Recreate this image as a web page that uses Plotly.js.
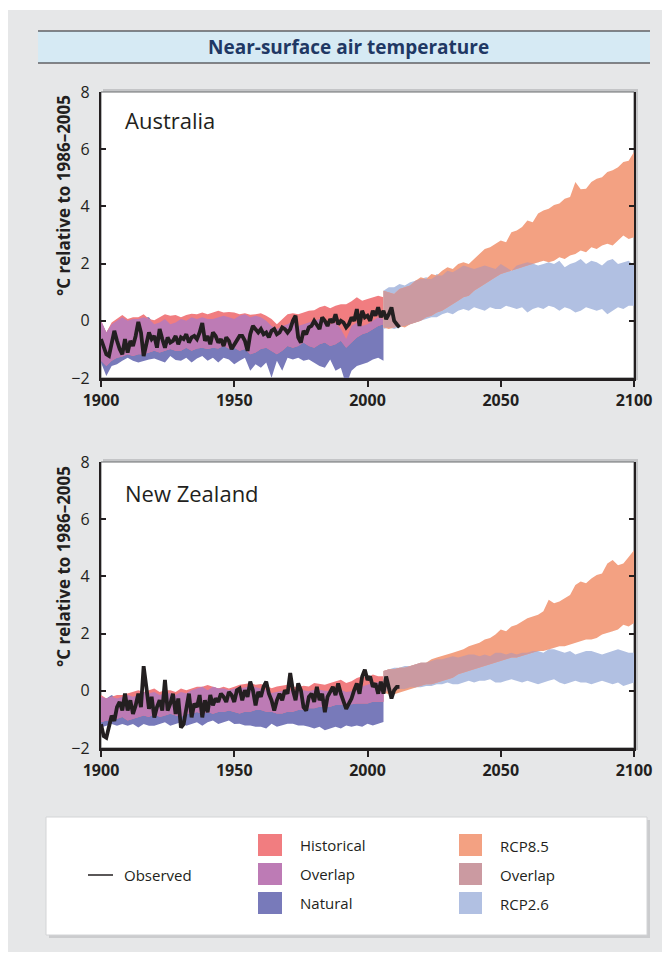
<!DOCTYPE html>
<html>
<head>
<meta charset="utf-8">
<script src="https://cdn.plot.ly/plotly-3.0.1.min.js"></script>
<style>
  html, body { margin: 0; padding: 0; background: #ffffff; }
  #chart { width: 667px; height: 957px; }
</style>
</head>
<body>
<div id="chart"></div>
<script>
// ---------------- DATA ----------------
function range(a, b, s) { const r = []; for (let v = a; v <= b; v += s) r.push(v); return r; }
const yearsHist = range(1900, 2006, 2);   // model historical / natural bands
const yearsObs  = range(1900, 2012, 1);   // observations
const yearsFut  = range(2006, 2100, 2);   // RCP projections

const xTickVals = [1900, 1950, 2000, 2050, 2100];
const yTickVals = [-2, 0, 2, 4, 6, 8];
const regionNames = ['Australia', 'New Zealand'];
const legendLeft  = ['Historical', 'Overlap', 'Natural'];
const legendRight = ['RCP8.5', 'Overlap', 'RCP2.6'];

// ---- Australia ----
const auHistHigh = [0.0,-0.41,-0.06,0.06,0.20,0.06,0.12,0.12,0.23,0.06,0.02,0.12,0.23,0.18,0.20,0.12,0.20,0.25,0.23,0.29,0.23,0.29,0.35,0.29,0.31,0.29,0.23,0.26,0.21,0.23,0.26,0.18,0.06,-0.12,0.06,0.23,0.26,0.23,0.29,0.35,0.37,0.47,0.53,0.44,0.53,0.58,0.58,0.68,0.82,0.70,0.76,0.82,0.88,0.82];
const auNatHigh  = [0.0,-0.41,-0.12,0.0,0.12,0.0,0.06,0.06,0.12,0.12,-0.12,-0.06,0.06,-0.12,-0.06,0.06,0.0,0.12,0.06,0.12,0.06,0.06,0.12,0.18,0.12,0.06,0.18,0.23,0.12,0.18,0.12,0.0,-0.18,-0.29,-0.18,-0.12,0.0,-0.18,-0.12,-0.06,0.0,0.06,0.0,-0.12,-0.06,-0.29,-0.64,-0.18,-0.06,-0.18,-0.12,0.0,0.12,0.06];
const auHistLow  = [-1.40,-1.58,-1.40,-1.29,-1.25,-1.17,-1.23,-1.17,-1.17,-1.11,-1.05,-1.11,-1.05,-0.99,-1.05,-1.05,-0.94,-1.05,-0.97,-0.94,-0.99,-0.94,-0.97,-0.88,-0.97,-0.94,-1.05,-0.99,-1.17,-1.11,-0.99,-0.94,-1.05,-1.17,-1.05,-0.88,-0.94,-0.88,-0.76,-0.88,-0.94,-0.82,-0.76,-0.88,-0.82,-0.70,-0.94,-0.76,-0.58,-0.47,-0.41,-0.29,-0.18,-0.12];
const auNatLow   = [-1.46,-1.93,-1.58,-1.52,-1.40,-1.29,-1.40,-1.46,-1.40,-1.35,-1.32,-1.40,-1.46,-1.23,-1.37,-1.40,-1.29,-1.46,-1.32,-1.23,-1.40,-1.29,-1.46,-1.29,-1.35,-1.52,-1.40,-1.29,-1.75,-1.52,-1.64,-1.46,-1.99,-1.40,-1.75,-1.29,-1.35,-1.29,-1.40,-1.35,-1.46,-1.58,-1.64,-1.35,-1.75,-1.64,-2.25,-1.75,-1.58,-1.52,-1.46,-1.35,-1.29,-1.40];
const auObs = [-0.64,-0.88,-1.17,-1.23,-0.82,-0.35,-0.70,-0.99,-1.17,-0.64,-1.11,-0.70,-0.88,-0.53,-0.04,-0.41,-1.23,-0.88,-0.41,-0.64,-0.53,-0.94,-0.29,-0.64,-0.94,-0.58,-0.76,-0.70,-0.53,-0.82,-0.58,-0.64,-0.47,-0.76,-0.58,-0.53,-0.64,-0.41,-0.08,-0.70,-0.53,-0.82,-0.41,-0.53,-0.76,-0.64,-0.88,-0.58,-0.70,-0.99,-0.82,-0.70,-0.53,-0.53,-0.70,-1.05,-0.47,-0.18,-0.29,-0.41,-0.29,-0.47,-0.41,-0.58,-0.35,-0.29,-0.47,-0.41,-0.23,-0.29,-0.41,-0.29,0.0,0.18,-0.58,-0.76,-0.35,-0.47,-0.23,-0.18,0.0,-0.12,-0.29,0.12,0.0,-0.18,0.06,-0.06,0.23,-0.12,0.0,-0.06,-0.23,-0.12,0.12,0.0,0.41,-0.18,0.35,0.12,0.18,0.0,0.35,0.18,0.47,0.12,0.35,0.06,0.23,0.47,0.0,-0.12,-0.23];
const auRcp85High = [1.05,0.99,0.94,1.11,1.17,1.23,1.40,1.52,1.46,1.64,1.58,1.75,1.87,1.81,1.99,2.05,1.99,2.16,2.34,2.51,2.57,2.69,2.81,2.75,3.10,3.16,3.28,3.51,3.45,3.75,3.86,3.92,4.05,4.10,4.27,4.33,4.85,4.60,4.62,4.85,4.97,5.02,5.20,5.26,5.37,5.55,5.60,5.90];
const auRcp85Low  = [-0.23,-0.29,-0.23,-0.18,-0.23,-0.12,-0.06,0.0,0.12,0.18,0.29,0.35,0.47,0.58,0.70,0.82,0.88,1.05,1.17,1.29,1.40,1.52,1.64,1.70,1.75,1.81,1.87,1.93,1.99,2.05,2.10,2.05,2.10,2.22,2.16,2.28,2.34,2.46,2.40,2.57,2.51,2.63,2.69,2.63,2.81,2.98,2.86,2.92];
const auRcp26High = [1.05,1.17,1.17,1.29,1.23,1.35,1.40,1.46,1.52,1.46,1.64,1.58,1.75,1.70,1.81,1.93,1.87,1.81,1.87,1.93,1.87,1.81,1.99,1.87,1.75,1.93,2.00,2.05,2.00,1.93,1.99,2.05,1.99,2.10,1.87,1.99,2.05,2.16,1.99,2.10,2.05,1.93,2.10,2.16,1.99,2.05,2.10,1.93];
const auRcp26Low  = [-0.29,-0.23,-0.29,-0.23,-0.18,-0.12,-0.06,0.0,0.06,0.12,0.12,0.23,0.29,0.23,0.35,0.41,0.35,0.47,0.41,0.35,0.47,0.41,0.41,0.53,0.47,0.41,0.47,0.29,0.41,0.47,0.41,0.53,0.47,0.35,0.47,0.41,0.29,0.35,0.47,0.41,0.35,0.41,0.23,0.35,0.47,0.41,0.53,0.53];

// ---- New Zealand ----
const nzHistHigh = [-0.15,-0.27,-0.21,-0.15,-0.15,-0.09,-0.04,0.02,-0.04,0.02,0.08,-0.04,0.02,0.02,-0.04,0.08,0.02,0.08,0.14,0.14,0.20,0.14,0.08,0.14,0.08,0.14,0.21,0.24,0.27,0.21,0.24,0.18,0.09,0.15,0.18,0.21,0.15,0.12,0.18,0.15,0.27,0.24,0.21,0.27,0.33,0.39,0.27,0.33,0.45,0.51,0.45,0.57,0.51,0.51];
const nzNatHigh  = [-0.21,-0.27,-0.15,-0.27,-0.21,-0.15,-0.21,-0.15,-0.04,-0.09,-0.04,-0.15,-0.09,-0.09,-0.15,-0.04,-0.09,0.02,0.08,0.14,0.02,0.14,0.08,0.08,0.02,0.08,0.09,0.12,0.15,0.12,0.09,0.04,-0.08,-0.04,-0.02,0.04,0.0,-0.02,0.02,-0.02,0.04,0.04,0.0,-0.02,0.04,0.04,-0.04,-0.02,0.09,0.15,0.21,0.27,0.30,0.33];
const nzHistLow  = [-1.10,-1.04,-1.04,-0.98,-0.92,-1.04,-0.98,-0.92,-0.86,-0.92,-0.80,-0.92,-0.86,-0.80,-0.86,-0.92,-0.80,-0.80,-0.74,-0.80,-0.74,-0.80,-0.74,-0.74,-0.69,-0.74,-0.79,-0.73,-0.73,-0.67,-0.67,-0.73,-0.73,-0.79,-0.79,-0.73,-0.73,-0.67,-0.67,-0.61,-0.61,-0.56,-0.56,-0.56,-0.50,-0.50,-0.47,-0.47,-0.44,-0.44,-0.44,-0.38,-0.38,-0.38];
const nzNatLow   = [-1.28,-1.22,-1.16,-1.22,-1.16,-1.22,-1.16,-1.28,-1.16,-1.22,-1.22,-1.16,-1.10,-1.22,-1.16,-1.10,-1.22,-1.16,-1.10,-1.22,-1.10,-1.04,-1.16,-1.10,-1.04,-1.16,-1.15,-1.21,-1.21,-1.26,-1.26,-1.32,-1.15,-1.26,-1.21,-1.15,-1.15,-1.21,-1.21,-1.26,-1.32,-1.26,-1.38,-1.32,-1.26,-1.32,-1.21,-1.26,-1.21,-1.26,-1.15,-1.21,-1.15,-1.09];
const nzObs = [-1.17,-1.58,-1.64,-1.29,-0.87,-1.05,-0.57,-0.39,-0.69,-0.10,-0.69,-0.33,-0.81,-0.51,-0.10,-0.57,0.86,0.14,-0.63,-0.21,-0.93,-0.57,-0.33,-0.69,0.38,-0.69,-0.45,-0.10,-0.81,-0.27,-1.29,-1.17,-0.57,-0.10,-0.93,-0.45,-0.57,-0.15,-0.93,-0.33,-0.75,-0.15,-0.51,-0.27,-0.39,-0.10,-0.21,-0.39,-0.04,-0.15,-0.39,0.02,0.08,-0.33,0.02,-0.21,0.32,0.02,-0.51,-0.04,-0.21,0.14,0.32,-0.10,-0.33,-0.69,-0.33,-0.10,-0.33,0.02,-0.10,0.62,0.02,-0.33,0.26,0.02,-0.57,-0.69,-0.21,-0.10,-0.39,0.14,-0.33,-0.10,-0.75,-0.21,-0.04,0.14,-0.15,0.26,-0.10,-0.39,-0.63,-0.45,-0.27,0.02,0.26,-0.10,0.50,0.74,0.38,0.50,0.14,0.26,-0.10,0.32,-0.10,0.50,0.08,-0.27,0.02,0.14,0.14];
const nzRcp85High = [0.69,0.75,0.75,0.81,0.81,0.87,0.92,0.98,0.98,1.10,1.16,1.21,1.27,1.33,1.39,1.45,1.56,1.62,1.68,1.79,1.85,1.97,2.14,2.08,2.25,2.31,2.43,2.54,2.60,2.66,2.78,3.18,3.06,3.12,3.24,3.35,3.70,3.82,3.76,3.93,4.05,4.10,4.45,4.57,4.39,4.45,4.68,4.91];
const nzRcp85Low  = [-0.06,-0.12,-0.12,-0.06,0.0,0.06,0.12,0.17,0.23,0.23,0.29,0.35,0.40,0.46,0.58,0.64,0.69,0.75,0.81,0.87,0.92,0.98,1.04,1.10,1.16,1.16,1.21,1.27,1.33,1.39,1.39,1.45,1.50,1.56,1.56,1.62,1.68,1.73,1.79,1.79,1.85,1.97,2.02,2.08,2.14,2.31,2.25,2.37];
const nzRcp26High = [0.69,0.75,0.81,0.81,0.87,0.87,0.92,0.98,0.98,1.04,1.10,1.10,1.16,1.21,1.16,1.21,1.27,1.27,1.21,1.27,1.21,1.33,1.33,1.27,1.33,1.27,1.33,1.33,1.39,1.39,1.33,1.45,1.45,1.39,1.33,1.39,1.27,1.33,1.39,1.39,1.33,1.27,1.33,1.39,1.45,1.39,1.33,1.33];
const nzRcp26Low  = [-0.06,0.0,0.0,0.06,0.06,0.12,0.12,0.12,0.17,0.17,0.23,0.23,0.29,0.23,0.23,0.29,0.35,0.29,0.35,0.35,0.40,0.29,0.29,0.35,0.40,0.35,0.29,0.35,0.29,0.23,0.29,0.35,0.40,0.29,0.23,0.29,0.35,0.29,0.29,0.23,0.29,0.35,0.29,0.23,0.29,0.17,0.23,0.29];

// ---------------- STYLE ----------------
const C = {
  hist: '#f17d80', histOv: '#bd7bb5', nat: '#787aba',
  rcp85: '#f3a182', rcpOv: '#cb9aa1', rcp26: '#b1c0e2',
  obs: '#231f20', ink: '#231f20', panel: '#e6e7e8', banner: '#d6eaf4', title: '#1f3864'
};
const W = 667, H = 957;
const PX = p => p / W;
const PY = p => 1 - p / H;
const FONT = '"Open Sans", "DejaVu Sans", sans-serif';

function band(x, hi, lo, color, xa, ya) {
  return {
    type: 'scatter', mode: 'lines', xaxis: xa, yaxis: ya,
    x: x.concat(x.slice().reverse()),
    y: hi.concat(lo.slice().reverse()),
    fill: 'toself', fillcolor: color, line: { width: 0, color: color },
    hoverinfo: 'skip', showlegend: false
  };
}
function overlapBand(x, hiA, loA, hiB, loB, color, xa, ya) {
  const lo = loA.map((v, i) => Math.max(v, loB[i]));
  const hi = hiA.map((v, i) => Math.max(Math.min(v, hiB[i]), lo[i]));
  return band(x, hi, lo, color, xa, ya);
}

function regionTraces(d, xa, ya) {
  return [
    band(yearsHist, d.natHigh, d.natLow, C.nat, xa, ya),
    band(yearsHist, d.histHigh, d.histLow, C.hist, xa, ya),
    overlapBand(yearsHist, d.histHigh, d.histLow, d.natHigh, d.natLow, C.histOv, xa, ya),
    band(yearsFut, d.r26High, d.r26Low, C.rcp26, xa, ya),
    band(yearsFut, d.r85High, d.r85Low, C.rcp85, xa, ya),
    overlapBand(yearsFut, d.r85High, d.r85Low, d.r26High, d.r26Low, C.rcpOv, xa, ya),
    { type: 'scatter', mode: 'lines', xaxis: xa, yaxis: ya, x: yearsObs, y: d.obs,
      line: { color: C.obs, width: 3.8, shape: 'linear' }, hoverinfo: 'skip', showlegend: false }
  ];
}

const traces = [].concat(
  regionTraces({ histHigh: auHistHigh, histLow: auHistLow, natHigh: auNatHigh, natLow: auNatLow,
                 r85High: auRcp85High, r85Low: auRcp85Low, r26High: auRcp26High, r26Low: auRcp26Low, obs: auObs }, 'x', 'y'),
  regionTraces({ histHigh: nzHistHigh, histLow: nzHistLow, natHigh: nzNatHigh, natLow: nzNatLow,
                 r85High: nzRcp85High, r85Low: nzRcp85Low, r26High: nzRcp26High, r26Low: nzRcp26Low, obs: nzObs }, 'x2', 'y2')
);

// plot geometry (pixels)
const plotL = 101, plotR = 634;
const panels = [{ top: 92, bot: 378 }, { top: 462, bot: 748 }];

function xAxis(anchor) {
  return {
    anchor: anchor, domain: [PX(plotL), PX(plotR)], range: [1900, 2100],
    tickvals: xTickVals, ticks: 'outside', ticklen: 6, tickwidth: 2, tickcolor: C.ink,
    showline: true, linecolor: C.ink, linewidth: 2.5, showgrid: false, zeroline: false,
    tickfont: { family: FONT, size: 16, color: C.ink, weight: 'bold' }, fixedrange: true
  };
}
function yAxis(anchor, p) {
  return {
    anchor: anchor, domain: [PY(p.bot), PY(p.top)], range: [-2, 8],
    tickvals: yTickVals, ticks: 'inside', ticklen: 5, tickwidth: 2, tickcolor: C.ink,
    showline: true, linecolor: C.ink, linewidth: 2.2, mirror: 'ticks', showgrid: false, zeroline: false,
    tickfont: { family: FONT, size: 16, color: C.ink }, ticklabelstandoff: 6, fixedrange: true
  };
}

const shapes = [];
const rect = (x0, y0, x1, y1, fill, line, layer) => shapes.push({
  type: 'rect', xref: 'paper', yref: 'paper', x0: PX(x0), x1: PX(x1), y0: PY(y1), y1: PY(y0),
  fillcolor: fill, line: line || { width: 0 }, layer: layer || 'below'
});
const hline = (x0, x1, y, color, w) => shapes.push({
  type: 'line', xref: 'paper', yref: 'paper', x0: PX(x0), x1: PX(x1), y0: PY(y), y1: PY(y),
  line: { color: color, width: w }, layer: 'below'
});

// background panel
rect(8, 10, 662, 952, C.panel);
// title banner
rect(38, 31, 650, 63, C.banner);
hline(38, 650, 31, C.ink, 1.2);
hline(38, 650, 63, C.ink, 1.2);
// plot boxes with soft shadow
panels.forEach(p => {
  rect(plotL + 2, p.top - 3, plotR + 4, p.bot + 2, '#c4c5c7');
  rect(plotL, p.top, plotR, p.bot, '#ffffff', { color: '#6d6e71', width: 1 });
});
// legend box
rect(49, 820, 650, 938, '#cbccce');
rect(46, 817, 647, 935, '#ffffff', { color: '#d3d4d6', width: 1 });

// legend keys
const keyColorsL = [C.hist, C.histOv, C.nat];
const keyColorsR = [C.rcp85, C.rcpOv, C.rcp26];
const rowY = [845, 874, 903];
const annotations = [];
rowY.forEach((cy, i) => {
  rect(258, cy - 11, 282, cy + 11, keyColorsL[i], null, 'above');
  rect(459, cy - 11, 482, cy + 11, keyColorsR[i], null, 'above');
  annotations.push({ xref: 'paper', yref: 'paper', x: PX(298), y: PY(cy), xanchor: 'left', yanchor: 'middle',
    text: legendLeft[i], showarrow: false, font: { family: FONT, size: 15, color: C.ink } });
  annotations.push({ xref: 'paper', yref: 'paper', x: PX(498), y: PY(cy + 1), xanchor: 'left', yanchor: 'middle',
    text: legendRight[i], showarrow: false, font: { family: FONT, size: 15, color: C.ink } });
});
shapes.push({ type: 'line', xref: 'paper', yref: 'paper', x0: PX(88), x1: PX(113), y0: PY(875), y1: PY(875),
  line: { color: C.ink, width: 1.5 }, layer: 'above' });
annotations.push({ xref: 'paper', yref: 'paper', x: PX(122), y: PY(875), xanchor: 'left', yanchor: 'middle',
  text: 'Observed', showarrow: false, font: { family: FONT, size: 15, color: C.ink } });

// title
annotations.push({ xref: 'paper', yref: 'paper', x: PX(348), y: PY(47), xanchor: 'center', yanchor: 'middle',
  text: 'Near-surface air temperature', showarrow: false,
  font: { family: FONT, size: 19, color: C.title, weight: 'bold' } });

// panel labels and y titles
const labelY = [120, 493];
const ytitleY = [196, 567];
regionNames.forEach((name, i) => {
  annotations.push({ xref: 'paper', yref: 'paper', x: PX(123), y: PY(labelY[i]), xanchor: 'left', yanchor: 'middle',
    text: name, showarrow: false, font: { family: FONT, size: 22, color: C.ink } });
  annotations.push({ xref: 'paper', yref: 'paper', x: PX(63), y: PY(ytitleY[i]), xanchor: 'center', yanchor: 'middle',
    text: '°C relative to 1986–2005', textangle: -90, showarrow: false,
    font: { family: FONT, size: 17, color: C.ink, weight: 'bold' } });
});

const layout = {
  width: W, height: H,
  margin: { l: 0, r: 0, t: 0, b: 0 },
  paper_bgcolor: '#ffffff', plot_bgcolor: 'rgba(0,0,0,0)',
  showlegend: false,
  font: { family: FONT, color: C.ink },
  xaxis: xAxis('y'), yaxis: yAxis('x', panels[0]),
  xaxis2: xAxis('y2'), yaxis2: yAxis('x2', panels[1]),
  shapes: shapes, annotations: annotations
};

Plotly.newPlot('chart', traces, layout, { staticPlot: true, displayModeBar: false });
</script>
</body>
</html>
